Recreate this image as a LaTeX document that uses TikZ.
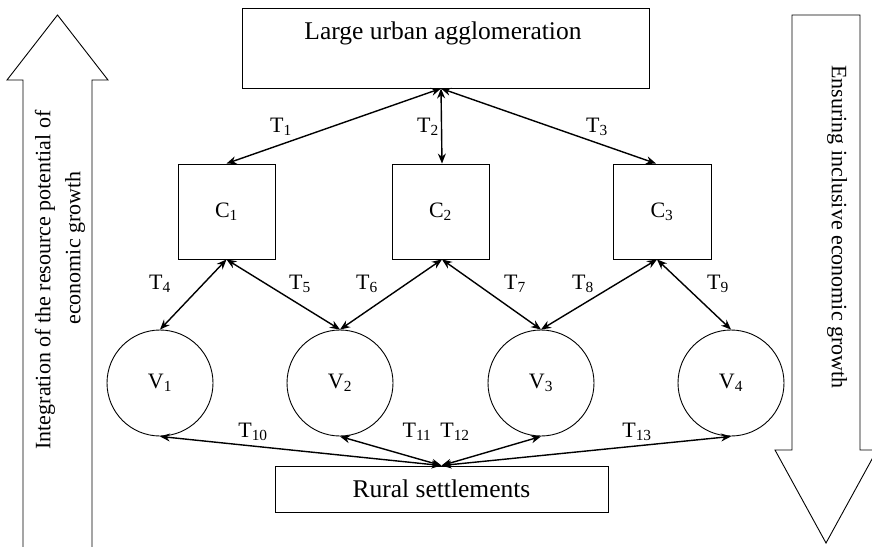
\documentclass[tikz,border=0pt]{standalone}
\usepackage{fontspec}
\setmainfont{Liberation Serif}
\usetikzlibrary{arrows.meta}
\newcommand{\bigf}{\fontsize{22}{26}\selectfont}
\newcommand{\boxf}{\fontsize{25.5}{30}\selectfont}
\newcommand{\lbl}[2]{#1\textsubscript{#2}}
\begin{document}
\begin{tikzpicture}[x=1pt,y=-1pt,
  box/.style={draw, line width=0.9pt, inner sep=0pt, font=\bigf},
  vnode/.style={draw, circle, line width=0.9pt, minimum size=106pt, inner sep=0pt, font=\bigf},
  link/.style={line width=1.4pt, {Stealth[length=10pt,width=8pt]}-{Stealth[length=10pt,width=8pt]}},
  tl/.style={font=\bigf, inner sep=0pt},
  bigarrow/.style={draw, line width=0.9pt, line join=miter}]
\useasboundingbox (0,0) rectangle (872,546);
% big side arrows
\draw[bigarrow] (23,560) -- (23,80) -- (7,80) -- (57.5,15) -- (108,80) -- (92,80) -- (92,560);
\draw[bigarrow] (792,15) -- (860,15) -- (860,450) -- (877,450) -- (826,543) -- (775,450) -- (792,450) -- cycle;
\node[rotate=90, font=\bigf, inner sep=0pt] (ltxt1) at (45,280) {Integration of the resource potential of};
\node[rotate=90, font=\bigf, inner sep=0pt] (ltxt2) at (75,248) {economic growth};
\node[rotate=-90, font=\bigf, inner sep=0pt] (rtxt) at (837,227) {Ensuring inclusive economic growth};
% boxes
\node[box, minimum width=407pt, minimum height=80pt] (top) at (445.5,48) {};
\node[font=\boxf, inner sep=0pt] (toplbl) at (443,33) {Large urban agglomeration};
\node[box, minimum width=97pt, minimum height=95pt] (C1) at (226.5,211.5) {\lbl{C}{1}};
\node[box, minimum width=97pt, minimum height=95pt] (C2) at (440.5,211.5) {\lbl{C}{2}};
\node[box, minimum width=98pt, minimum height=95pt] (C3) at (662,211.5) {\lbl{C}{3}};
\node[vnode] (V1) at (160,383) {\lbl{V}{1}};
\node[vnode] (V2) at (340,383) {\lbl{V}{2}};
\node[vnode] (V3) at (541,383) {\lbl{V}{3}};
\node[vnode] (V4) at (731,383) {\lbl{V}{4}};
\node[box, minimum width=333pt, minimum height=46pt, font=\boxf] (rural) at (441.5,489) {Rural settlements};
\coordinate (topin) at ([xshift=-4.5pt]top.south);
\coordinate (C3top) at ([xshift=-6pt]C3.north);
\coordinate (C3bot) at ([xshift=-5pt]C3.south);
% links
\draw[link] (topin) -- (C1.north);
\draw[link] (topin) -- ([xshift=1.5pt]C2.north);
\draw[link] (topin) -- (C3top);
\draw[link] (C1.south) -- (V1.north);
\draw[link] (C1.south) -- (V2.north);
\draw[link] ([xshift=1.5pt]C2.south) -- (V2.north);
\draw[link] ([xshift=1.5pt]C2.south) -- (V3.north);
\draw[link] (C3bot) -- (V3.north);
\draw[link] (C3bot) -- (V4.north);
\draw[link] (rural.north) -- (V1.south);
\draw[link] (rural.north) -- (V2.south);
\draw[link] (rural.north) -- (V3.south);
\draw[link] (rural.north) -- (V4.south);
% labels
\node[tl] (t1) at (281,127) {\lbl{T}{1}};
\node[tl] (t2) at (428,127) {\lbl{T}{2}};
\node[tl] (t3) at (597,127) {\lbl{T}{3}};
\node[tl] (t4) at (160,284) {\lbl{T}{4}};
\node[tl] (t5) at (300,284) {\lbl{T}{5}};
\node[tl] (t6) at (367,284) {\lbl{T}{6}};
\node[tl] (t7) at (515,284) {\lbl{T}{7}};
\node[tl] (t8) at (583,284) {\lbl{T}{8}};
\node[tl] (t9) at (718,284) {\lbl{T}{9}};
\node[tl] (t10) at (253,432) {\lbl{T}{10}};
\node[tl] (t11) at (417,432) {\lbl{T}{11}};
\node[tl] (t12) at (455,432) {\lbl{T}{12}};
\node[tl] (t13) at (637,432) {\lbl{T}{13}};
\end{tikzpicture}
\end{document}
